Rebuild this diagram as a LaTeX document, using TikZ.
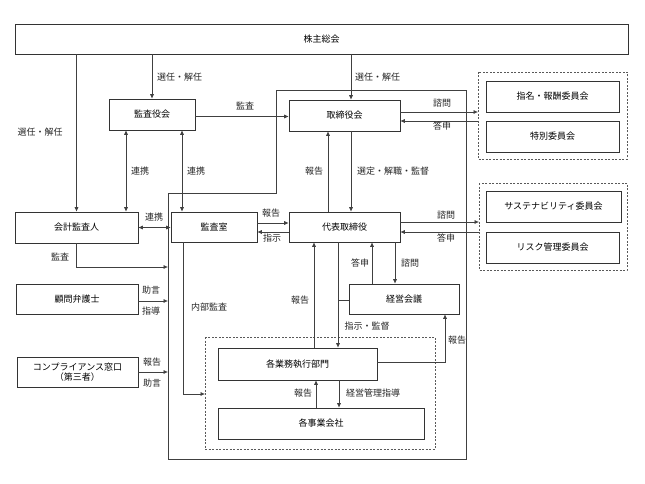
\documentclass[tikz,border=0pt]{standalone}
\usepackage{fontspec}
\setmainfont{Noto Sans CJK JP}
\usetikzlibrary{arrows.meta,calc}
\begin{document}
\begin{tikzpicture}[x=1pt,y=-1pt,
  font=\fontsize{9}{11}\selectfont,
  box/.style={draw=black!80,line width=0.6pt,rectangle,inner sep=0pt,align=center},
  grp/.style={draw=black!65,dashed,dash pattern=on 2pt off 1.5pt,line width=0.5pt},
  ln/.style={draw=black!75,line width=0.6pt},
  arr/.style={ln,-{Latex[length=4.5pt,width=4pt]}},
  dbl/.style={ln,{Latex[length=4.5pt,width=4pt]}-{Latex[length=4.5pt,width=4pt]}},
  lbl/.style={inner sep=0pt,text=black!85}]
\useasboundingbox[fill=white] (0,0) rectangle (645,484);

% boxes
\node[box,minimum width=613,minimum height=30] (kabu) at (321.5,39) {株主総会};
\node[box,minimum width=86,minimum height=31] (kyk) at (152,114.5) {監査役会};
\node[box,minimum width=111,minimum height=31] (trk) at (344.5,115.5) {取締役会};
\node[box,minimum width=133,minimum height=31] (shm) at (552.5,96.5) {指名・報酬委員会};
\node[box,minimum width=133,minimum height=31] (tok) at (552.5,136.5) {特別委員会};
\node[box,minimum width=135,minimum height=31] (sus) at (553.5,206.5) {サステナビリティ委員会};
\node[box,minimum width=133,minimum height=31] (rsk) at (552.5,247.5) {リスク管理委員会};
\node[box,minimum width=111,minimum height=30] (dai) at (344.5,227) {代表取締役};
\node[box,minimum width=86,minimum height=30] (ksh) at (214,227) {監査室};
\node[box,minimum width=123,minimum height=31] (kai) at (76.5,227.5) {会計監査人};
\node[box,minimum width=122,minimum height=30] (kom) at (77,299) {顧問弁護士};
\node[box,minimum width=121,minimum height=30,font=\fontsize{9}{10.5}\selectfont] (cmp) at (77.5,372) {コンプライアンス窓口\\（第三者）};
\node[box,minimum width=110,minimum height=30] (kei) at (404,299) {経営会議};
\node[box,minimum width=159,minimum height=32] (kgy) at (297.5,364) {各業務執行部門};
\node[box,minimum width=206,minimum height=31] (kjg) at (321,423.5) {各事業会社};

% dashed groups
\draw[grp] (478,72) rectangle (627,159);
\coordinate (g1a) at (478,112);
\coordinate (g1b) at (478,121);
\draw[grp] (479,183) rectangle (627,270);
\coordinate (g2a) at (479,222);
\coordinate (g2b) at (479,232);
\draw[grp] (205,337) rectangle (435,449);
\coordinate (g3) at (205,394);

% big solid frame
\draw[ln] (276,90) -- (466,90) -- (466,459) -- (168,459) -- (168,193) -- (276,193) -- cycle;
\coordinate (fa) at (168,267);
\coordinate (fb) at (168,301);
\coordinate (fc) at (168,372);

% shareholders
\draw[arr] (kai.north |- kabu.south) -- (kai.north);
\node[lbl] at (40,132) {選任・解任};
\draw[arr] (kyk.north |- kabu.south) -- (kyk.north);
\node[lbl,anchor=west] at (157,77) {選任・解任};
\draw[arr] (351,54) coordinate (k3) -- (k3 |- trk.north);
\node[lbl,anchor=west] at (355,77) {選任・解任};

% audit board
\draw[arr] (kyk.east |- 0,116.5) -- (trk.west |- 0,116.5);
\node[lbl] at (245,106) {監査};
\draw[dbl] ([xshift=-26pt]kyk.south) coordinate (r1) -- (r1 |- kai.north);
\node[lbl,anchor=west] at (131,171) {連携};
\draw[dbl] ([xshift=30pt]kyk.south) coordinate (r2) -- (r2 |- ksh.north);
\node[lbl,anchor=west] at (187,171) {連携};
\draw[dbl] (kai.east |- 0,227.5) -- (ksh.west |- 0,227.5);
\node[lbl] at (154,217) {連携};

% left side inputs
\draw[arr] (kai.south) -- (kai.south |- fa) -- (fa);
\node[lbl] at (60,257) {監査};
\draw[arr] (kom.east |- fb) -- (fb);
\node[lbl] at (151,290) {助言};
\node[lbl] at (151,311) {指導};
\draw[arr] (cmp.east) -- (fc);
\node[lbl] at (152,362) {報告};
\node[lbl] at (152,383) {助言};

% internal audit
\draw[arr] ([xshift=-31pt]ksh.south) coordinate (ia) -- (ia |- g3) -- (g3);
\node[lbl] at (209,307) {内部監査};

% audit office <-> president
\draw[arr] (ksh.east |- 0,223) -- (dai.west |- 0,223);
\node[lbl] at (271,213) {報告};
\draw[arr] (dai.west |- 0,232) -- (ksh.east |- 0,232);
\node[lbl] at (272,238) {指示};

% board <-> president
\draw[arr] (328,212) coordinate (p1) -- (p1 |- trk.south);
\node[lbl] at (314,171) {報告};
\draw[arr] (351,131) coordinate (p2) -- (p2 |- dai.north);
\node[lbl,anchor=west] at (357,171) {選定・解職・監督};

% committees
\draw[arr] (trk.east |- g1a) -- (g1a);
\node[lbl] at (442,103) {諮問};
\draw[arr] (g1b) -- (trk.east |- g1b);
\node[lbl] at (442,126) {答申};
\draw[arr] (dai.east |- g2a) -- (g2a);
\node[lbl] at (446,215) {諮問};
\draw[arr] (g2b) -- (dai.east |- g2b);
\node[lbl] at (446,238) {答申};

% president <-> management meeting / divisions
\draw[arr] (314,348) coordinate (q1) -- (q1 |- dai.south);
\node[lbl] at (300,300) {報告};
\draw[arr] (338,242) coordinate (q2) -- (q2 |- kgy.north);
\node[lbl] at (367,326) {指示・監督};
\draw[ln] (kei.west |- 0,300) -- (q2 |- 0,300);
\draw[arr] (372,284) coordinate (q3) -- (q3 |- dai.south);
\node[lbl] at (360,263) {答申};
\draw[arr] (395,242) coordinate (q4) -- (q4 |- kei.north);
\node[lbl] at (410,263) {諮問};
\draw[arr] (kgy.east |- 0,362) -- (445,362) coordinate (q5) -- (q5 |- kei.south);
\node[lbl] at (457,340) {報告};

% divisions <-> group companies
\draw[arr] (316,408) coordinate (s1) -- (s1 |- kgy.south);
\node[lbl] at (303,393) {報告};
\draw[arr] (339,380) coordinate (s2) -- (s2 |- kjg.north);
\node[lbl] at (373,393) {経営管理指導};
\end{tikzpicture}
\end{document}
